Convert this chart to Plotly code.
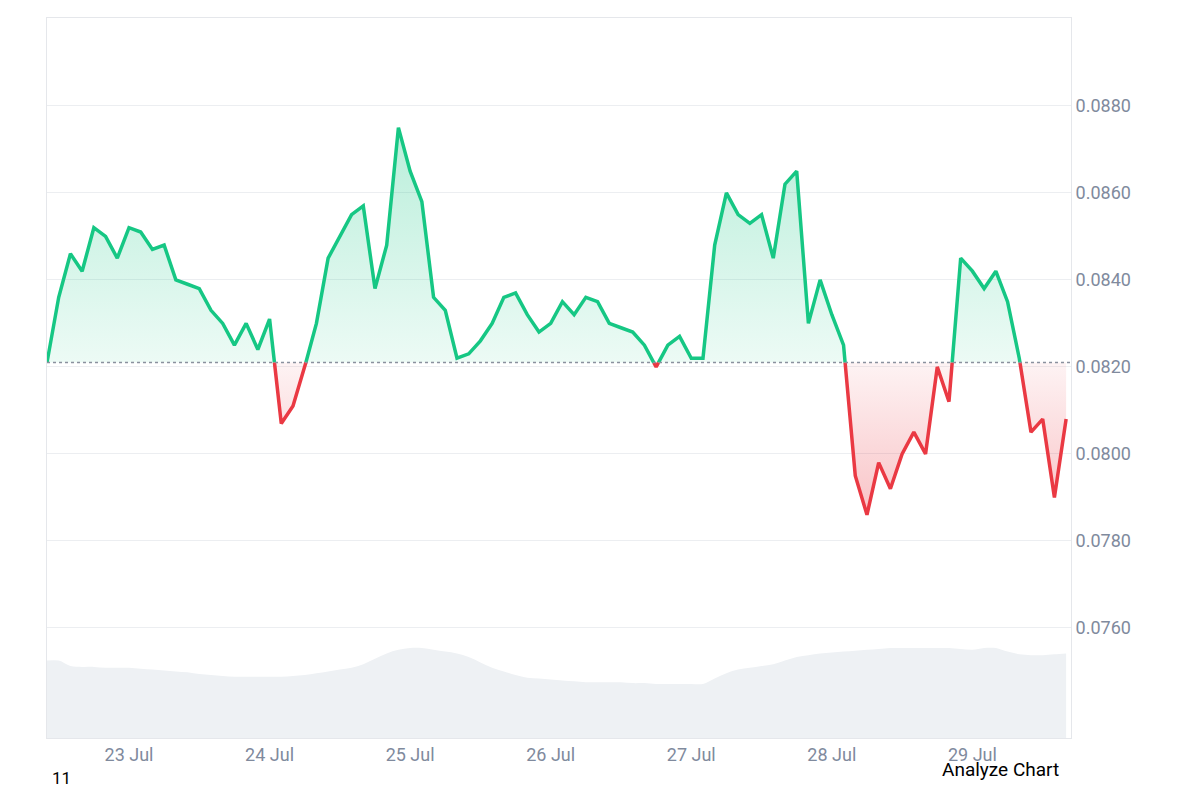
import numpy as np
import pandas as pd
import plotly.graph_objects as go

base_price = 0.0821
start = "2024-07-22 10:00"
prices = [0.0821,0.0836,0.0846,0.0842,0.0852,0.0850,0.0845,0.0852,0.0851,0.0847,0.0848,0.0840,
          0.0839,0.0838,0.0833,0.0830,0.0825,0.0830,0.0824,0.0831,0.0807,0.0811,0.0820,0.0830,
          0.0845,0.0850,0.0855,0.0857,0.0838,0.0848,0.0875,0.0865,0.0858,0.0836,0.0833,0.0822,
          0.0823,0.0826,0.0830,0.0836,0.0837,0.0832,0.0828,0.0830,0.0835,0.0832,0.0836,0.0835,
          0.0830,0.0829,0.0828,0.0825,0.0820,0.0825,0.0827,0.0822,0.0822,0.0848,0.0860,0.0855,
          0.0853,0.0855,0.0845,0.0862,0.0865,0.0830,0.0840,0.0832,0.0825,0.0795,0.0786,0.0798,
          0.0792,0.0800,0.0805,0.0800,0.0820,0.0812,0.0845,0.0842,0.0838,0.0842,0.0835,0.0822,
          0.0805,0.0808,0.0790,0.0808]
volume = [86,86,80,79,79,78,78,78,77,76,75,74,73,71,70,69,68,68,68,68,68,69,70,72,
          74,76,78,82,88,94,98,100,100,98,96,94,90,84,78,74,70,67,66,65,64,63,62,62,
          62,62,61,61,60,60,60,60,60,66,72,76,78,80,82,86,90,92,94,95,96,97,98,99,
          100,100,100,100,100,100,99,98,100,100,96,93,92,92,93,94]

times = pd.date_range(start, periods=len(prices), freq="2h")
t = times.values.astype("datetime64[ns]").astype(np.int64).astype(float)
p = np.array(prices)

tx, px = [t[0]], [p[0]]
for i in range(1, len(p)):
    a, b = p[i-1]-base_price, p[i]-base_price
    if a*b < 0:
        f = a/(a-b)
        tx.append(t[i-1]+f*(t[i]-t[i-1])); px.append(base_price)
    tx.append(t[i]); px.append(p[i])
tx = pd.to_datetime(np.array(tx).astype(np.int64))
px = np.array(px)

green, red = "#16c784", "#ea3943"
g_line = [v if v >= base_price else None for v in px]
r_line = [v if v <= base_price else None for v in px]

fig = go.Figure()
fig.add_trace(go.Scatter(x=times, y=volume, yaxis="y2", fill="tozeroy", mode="lines",
                         line=dict(width=0, shape="spline"), fillcolor="#eef1f4", hoverinfo="skip"))
fig.add_trace(go.Scatter(x=tx, y=[base_price]*len(tx), mode="lines", line=dict(width=0), hoverinfo="skip"))
fig.add_trace(go.Scatter(x=tx, y=np.maximum(px, base_price), mode="lines", line=dict(width=0),
                         fill="tonexty",
                         fillgradient=dict(type="vertical",
                                           colorscale=[[0, "rgba(22,199,132,0.08)"], [1, "rgba(22,199,132,0.3)"]])))
fig.add_trace(go.Scatter(x=tx, y=[base_price]*len(tx), mode="lines", line=dict(width=0), hoverinfo="skip"))
fig.add_trace(go.Scatter(x=tx, y=np.minimum(px, base_price), mode="lines", line=dict(width=0),
                         fill="tonexty",
                         fillgradient=dict(type="vertical",
                                           colorscale=[[0, "rgba(234,57,67,0.3)"], [1, "rgba(234,57,67,0.06)"]])))
fig.add_trace(go.Scatter(x=tx, y=g_line, mode="lines", line=dict(color=green, width=3.5), connectgaps=False))
fig.add_trace(go.Scatter(x=tx, y=r_line, mode="lines", line=dict(color=red, width=3.5), connectgaps=False))

fig.add_shape(type="line", xref="paper", x0=0, x1=1, y0=base_price, y1=base_price,
              line=dict(color="#8a919e", width=1.5, dash="dot"))

ticks = [0.0760, 0.0780, 0.0800, 0.0820, 0.0840, 0.0860, 0.0880]
fig.update_layout(
    width=1200, height=800, showlegend=False, plot_bgcolor="white", paper_bgcolor="white",
    margin=dict(l=39, r=137, t=10, b=70),
    font=dict(family="Roboto, sans-serif", color="#808a9d", size=18),
    xaxis=dict(range=[times[0], times[-1] + pd.Timedelta("50min")], showgrid=False,
               tickvals=pd.date_range("2024-07-23", "2024-07-29", freq="D"),
               tickformat="%-d %b", showline=True, linecolor="#e5e7eb", mirror=True, ticks=""),
    yaxis=dict(side="right", range=[0.07347, 0.09002], tickvals=ticks,
               ticktext=[f"{v:.4f}" for v in ticks], gridcolor="#eceef1",
               showline=True, linecolor="#e5e7eb", mirror=True, zeroline=False),
    yaxis2=dict(overlaying="y", range=[0, 800], visible=False),
    annotations=[
        dict(text="11", xref="paper", yref="paper", x=0.003, y=-0.072, showarrow=False,
             font=dict(color="black", size=17), xanchor="left"),
        dict(text="Analyze Chart", xref="paper", yref="paper", x=0.99, y=-0.062, showarrow=False,
             font=dict(color="black", size=19), xanchor="right"),
    ],
)
fig.write_html("out.html")
